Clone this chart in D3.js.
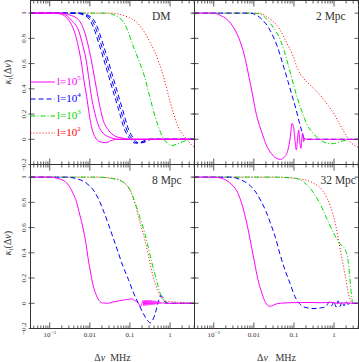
<!DOCTYPE html>
<html>
<head>
<meta charset="utf-8">
<script src="https://cdn.jsdelivr.net/npm/d3@7"></script>
<style>
  body { margin: 0; background: #fff; }
  svg { display: block; font-family: 'Liberation Serif', serif; }
</style>
</head>
<body>
<script>
// every curve is a list of [log10(Δν / MHz), κ_l(Δν)]
// DM panel: three l=10^5 curves and three l=10^4 curves
const dmL5a = [[-3.48,1],[-2.9,1],[-2.7,0.99],[-2.58,0.963],[-2.46,0.91],[-2.375,0.844],[-2.29,0.737],[-2.21,0.605],[-2.15,0.472],[-2.08,0.34],[-2.02,0.207],[-1.96,0.1],[-1.875,0.02],[-1.75,-0.019],[-1.6,-0.027],[-1.48,-0.012],[-1.33,0],[0.61,0]];
const dmL5b = [[-3.48,1],[-2.75,1],[-2.6,0.985],[-2.45,0.94],[-2.29,0.87],[-2.17,0.737],[-2.08,0.605],[-2.02,0.472],[-1.96,0.34],[-1.875,0.207],[-1.79,0.114],[-1.67,0.048],[-1.5,0.016],[-1.29,0],[0.61,0]];
const dmL5c = [[-3.48,1],[-2.7,1],[-2.5,0.985],[-2.29,0.95],[-2.125,0.844],[-2.0,0.685],[-1.92,0.552],[-1.83,0.393],[-1.75,0.26],[-1.67,0.154],[-1.54,0.074],[-1.375,0.026],[-1.17,0.008],[-1.0,0],[0.61,0]];
const dmL4a = [[-3.48,1],[-2.35,1],[-2.2,0.99],[-2.01,0.95],[-1.89,0.87],[-1.78,0.764],[-1.65,0.63],[-1.53,0.5],[-1.4,0.36],[-1.28,0.233],[-1.13,0.074],[-1.01,0.008],[-0.88,-0.03],[-0.75,-0.025],[-0.55,0],[0.61,0]];
const dmL4b = [[-3.48,1],[-2.3,1],[-2.15,0.99],[-1.96,0.95],[-1.84,0.87],[-1.73,0.764],[-1.6,0.63],[-1.48,0.5],[-1.35,0.36],[-1.23,0.233],[-1.08,0.074],[-0.96,0.008],[-0.83,-0.03],[-0.7,-0.025],[-0.5,0],[0.61,0]];
const dmL4c = [[-3.48,1],[-2.25,1],[-2.1,0.99],[-1.91,0.95],[-1.79,0.87],[-1.68,0.764],[-1.55,0.63],[-1.43,0.5],[-1.3,0.36],[-1.18,0.233],[-1.03,0.074],[-0.91,0.008],[-0.78,-0.03],[-0.65,-0.025],[-0.45,0],[0.61,0]];
const dmL3 = [[-3.48,1],[-1.6,1],[-1.25,0.96],[-1.08,0.88],[-0.92,0.74],[-0.75,0.6],[-0.63,0.49],[-0.54,0.38],[-0.42,0.233],[-0.29,0.1],[-0.17,0.008],[-0.04,-0.037],[0.04,-0.05],[0.2,-0.035],[0.4,-0.01],[0.61,0]];
const dmL2 = [[-3.48,1],[-1.5,1],[-1.1,0.975],[-0.75,0.9],[-0.5,0.77],[-0.3,0.63],[-0.13,0.46],[0.0,0.3],[0.1,0.19],[0.2,0.1],[0.33,0.034],[0.42,0],[0.54,-0.045],[0.61,-0.062]];

// 2 Mpc
const mpc2L5 = [[-3.48,1],[-3.0,1],[-2.83,0.981],[-2.67,0.95],[-2.5,0.883],[-2.33,0.764],[-2.21,0.631],[-2.125,0.499],[-2.04,0.366],[-1.96,0.23],[-1.86,0.11],[-1.775,0.03],[-1.69,-0.045],[-1.565,-0.112],[-1.44,-0.151],[-1.34,-0.159],[-1.23,-0.139],[-1.15,-0.085],[-1.09,0.02],[-1.05,0.125],[-1.01,0.1],[-0.975,-0.005],[-0.94,-0.085],[-0.92,-0.032],[-0.88,0.074],[-0.85,-0.032],[-0.825,-0.072],[-0.8,0.02],[-0.78,0.048],[-0.76,-0.019],[-0.73,0.008],[-0.69,0],[0.61,0]];
const mpc2L4 = [[-3.48,1],[-2.08,1],[-1.92,0.98],[-1.75,0.935],[-1.58,0.855],[-1.42,0.74],[-1.28,0.6],[-1.15,0.46],[-1.05,0.35],[-0.95,0.24],[-0.87,0.14],[-0.8,0.06],[-0.76,0.015],[-0.72,0],[0.61,0]];
const mpc2L3 = [[-3.48,1],[-2.0,1],[-1.83,0.99],[-1.67,0.95],[-1.5,0.88],[-1.33,0.78],[-1.17,0.62],[-1.05,0.48],[-0.94,0.353],[-0.815,0.233],[-0.69,0.127],[-0.525,0.048],[-0.36,0.0],[-0.19,-0.03],[-0.025,-0.035],[0.14,-0.02],[0.33,-0.005],[0.61,0]];
const mpc2L2 = [[-3.48,1],[-1.85,1],[-1.67,0.97],[-1.56,0.945],[-1.35,0.87],[-1.18,0.764],[-1.02,0.658],[-0.9,0.552],[-0.75,0.48],[-0.6,0.43],[-0.4,0.37],[-0.2,0.29],[0.0,0.2],[0.15,0.115],[0.32,0.021],[0.4,-0.019],[0.57,-0.058],[0.61,-0.065]];

// 8 Mpc
const mpc8L5 = [[-3.48,1],[-3.0,1],[-2.8,0.99],[-2.667,0.975],[-2.54,0.94],[-2.417,0.87],[-2.33,0.8],[-2.25,0.7],[-2.167,0.59],[-2.1,0.48],[-2.04,0.35],[-1.98,0.24],[-1.917,0.14],[-1.833,0.06],[-1.75,0.015],[-1.667,0.002],[-1.55,0],[-1.417,0.01],[-1.25,0.021],[-1.083,0.03],[-0.958,0.034],[-0.875,0.021],[-0.792,0],[-0.733,-0.026],[-0.7,0],[-0.675,0.022],[-0.65,-0.02],[-0.625,0.024],[-0.6,-0.018],[-0.575,0.025],[-0.55,-0.016],[-0.525,0.024],[-0.5,-0.014],[-0.475,0.023],[-0.45,-0.012],[-0.425,0.021],[-0.4,-0.01],[-0.375,0.019],[-0.35,-0.008],[-0.325,0.016],[-0.3,-0.006],[-0.275,0.013],[-0.25,-0.004],[-0.225,0.01],[-0.2,-0.002],[-0.175,0.006],[-0.15,0],[0.61,0]];
const mpc8L4 = [[-3.48,1],[-2.6,1],[-2.3,0.985],[-2.08,0.95],[-1.92,0.9],[-1.79,0.83],[-1.67,0.74],[-1.54,0.63],[-1.42,0.52],[-1.29,0.4],[-1.17,0.29],[-1.04,0.19],[-0.92,0.09],[-0.79,0],[-0.67,-0.08],[-0.55,-0.14],[-0.49,-0.155],[-0.42,-0.125],[-0.35,-0.058],[-0.29,0.016],[-0.23,0.06],[-0.18,0.047],[-0.125,0.016],[-0.07,0],[0.61,0]];
const mpc8L3 = [[-3.48,1],[-1.83,1],[-1.58,0.995],[-1.33,0.98],[-1.125,0.95],[-1.0,0.9],[-0.875,0.8],[-0.75,0.68],[-0.625,0.55],[-0.54,0.44],[-0.46,0.33],[-0.375,0.23],[-0.29,0.126],[-0.21,0.047],[-0.125,0.008],[0,0],[0.61,0]];
const mpc8L2 = [[-3.48,1],[-1.83,1],[-1.33,0.985],[-1.0,0.9],[-0.875,0.79],[-0.75,0.64],[-0.625,0.5],[-0.54,0.38],[-0.46,0.26],[-0.375,0.16],[-0.29,0.085],[-0.21,0.04],[-0.125,0.02],[0,0.013],[0.25,0.008],[0.5,0.003],[0.61,0]];

// 32 Mpc
const mpc32L5 = [[-3.48,1],[-3.0,1],[-2.8,0.99],[-2.6,0.955],[-2.38,0.86],[-2.24,0.72],[-2.14,0.58],[-2.06,0.45],[-1.98,0.32],[-1.9,0.19],[-1.82,0.1],[-1.73,0.02],[-1.64,-0.02],[-1.58,-0.024],[-1.47,-0.008],[-1.34,0],[-1.0,0.005],[-0.6,0.006],[-0.3,0.004],[-0.1,0.008],[0.1,0],[0.3,0.004],[0.45,0],[0.61,0]];
const mpc32L4 = [[-3.48,1],[-2.6,1],[-2.3,0.975],[-2.1,0.935],[-1.95,0.88],[-1.82,0.81],[-1.7,0.73],[-1.58,0.63],[-1.46,0.52],[-1.34,0.38],[-1.22,0.26],[-1.1,0.16],[-0.98,0.055],[-0.87,0],[-0.78,-0.025],[-0.65,-0.037],[-0.5,-0.042],[-0.34,-0.037],[-0.2,-0.026],[-0.12,0.01],[-0.06,-0.02],[0,0.015],[0.05,-0.03],[0.1,0.02],[0.15,-0.025],[0.2,0.012],[0.25,-0.02],[0.3,0.015],[0.35,-0.01],[0.4,0.005],[0.45,0],[0.61,0]];
const mpc32L3 = [[-3.48,1],[-1.5,1],[-1.0,0.993],[-0.85,0.98],[-0.68,0.94],[-0.52,0.88],[-0.35,0.79],[-0.18,0.67],[-0.01,0.555],[0.15,0.47],[0.27,0.43],[0.345,0.35],[0.39,0.22],[0.425,0.09],[0.47,0.005],[0.5,0],[0.61,0]];
const mpc32L2 = [[-3.48,1],[-1.5,1],[-1.0,0.99],[-0.68,0.975],[-0.5,0.95],[-0.3,0.9],[-0.17,0.83],[-0.04,0.72],[0.04,0.62],[0.1,0.52],[0.17,0.4],[0.23,0.3],[0.29,0.2],[0.35,0.09],[0.41,0.025],[0.46,0],[0.61,0]];

const yTicks = [-0.2, 0, 0.2, 0.4, 0.6, 0.8, 1];
const yTickLabels = ['−0.2', '0', '0.2', '0.4', '0.6', '0.8', '1'];
const xTicks = [0.001, 0.01, 0.1, 1];
const xTickLabels = [['10', '−3'], ['0.01'], ['0.1'], ['1']];
const legendKeys = ['l5', 'l4', 'l3', 'l2'];
const legendPowers = ['5', '4', '3', '2'];

const w = 359, h = 362;
const xLo = -3.48, xHi = 0.61;
const cols = [[30.5, 194.5], [194.5, 358.5]];
const rows = [[0.5, 164.5], [164.5, 328.5]];
const colors = { l5: '#ff00ff', l4: '#0000ff', l3: '#00d800', l2: '#ff0000' };
const dashes = { l5: null, l4: '5,3', l3: '5,2,1,2', l2: '1,2' };

const panels = [
  { label: 'DM', lx: 121.5, col: 0, row: 0,
    lines: [['l2', dmL2], ['l3', dmL3], ['l4', dmL4a], ['l4', dmL4b], ['l4', dmL4c], ['l5', dmL5a], ['l5', dmL5b], ['l5', dmL5c]] },
  { label: '2 Mpc', lx: 121.5, col: 1, row: 0,
    lines: [['l2', mpc2L2], ['l3', mpc2L3], ['l4', mpc2L4], ['l5', mpc2L5]] },
  { label: '8 Mpc', lx: 121.5, col: 0, row: 1,
    lines: [['l2', mpc8L2], ['l3', mpc8L3], ['l4', mpc8L4], ['l5', mpc8L5]] },
  { label: '32 Mpc', lx: 126, col: 1, row: 1,
    lines: [['l2', mpc32L2], ['l3', mpc32L3], ['l4', mpc32L4], ['l5', mpc32L5]] }
];

const svg = d3.select('body').append('svg').attr('width', w).attr('height', h);

const isMajor = v => Math.abs(Math.log10(v) - Math.round(Math.log10(v))) < 1e-6;

function drawPanel(p) {
  const [x0, x1] = cols[p.col];
  const [y0, y1] = rows[p.row];
  const x = d3.scaleLog().domain([10 ** xLo, 10 ** xHi]).range([x0, x1]);
  const y = d3.scaleLinear().domain([-0.2, 1.1]).range([y1, y0]);
  const g = svg.append('g');
  const clipId = `clip-${p.col}-${p.row}`;

  svg.append('clipPath').attr('id', clipId)
    .append('rect').attr('x', x0).attr('y', y0).attr('width', x1 - x0).attr('height', y1 - y0);

  const line = d3.line()
    .x(d => x(10 ** d[0]))
    .y(d => y(d[1]))
    .curve(d3.curveMonotoneX);

  g.append('g').attr('clip-path', `url(#${clipId})`)
    .selectAll('path')
    .data(p.lines)
    .join('path')
    .attr('d', d => line(d[1]))
    .attr('fill', 'none')
    .attr('stroke', d => colors[d[0]])
    .attr('stroke-width', 1)
    .attr('stroke-dasharray', d => dashes[d[0]]);

  // log ticks on top and bottom, pointing in
  const xt = x.ticks();
  const ticks = g.append('g').attr('stroke', '#333').attr('stroke-width', 0.8);
  ticks.selectAll('.xb').data(xt).join('line')
    .attr('x1', d => x(d)).attr('x2', d => x(d))
    .attr('y1', y1).attr('y2', d => y1 - (isMajor(d) ? 6 : 3));
  ticks.selectAll('.xt').data(xt).join('line')
    .attr('x1', d => x(d)).attr('x2', d => x(d))
    .attr('y1', y0).attr('y2', d => y0 + (isMajor(d) ? 6 : 3));
  ticks.selectAll('.yl').data(yTicks).join('line')
    .attr('x1', x0 - 2).attr('x2', x0 + 4)
    .attr('y1', d => y(d)).attr('y2', d => y(d));
  ticks.selectAll('.yr').data(yTicks).join('line')
    .attr('x1', x1 - 4).attr('x2', x1 + 1)
    .attr('y1', d => y(d)).attr('y2', d => y(d));

  g.append('rect')
    .attr('x', x0).attr('y', y0)
    .attr('width', x1 - x0).attr('height', y1 - y0)
    .attr('fill', 'none').attr('stroke', '#333').attr('stroke-width', 1);

  if (p.col === 0) {
    g.selectAll('.ylab').data(yTicks).join('text')
      .attr('transform', d => `translate(${x0 - 5},${y(d)}) rotate(-90)`)
      .attr('text-anchor', 'middle')
      .attr('font-size', 7)
      .attr('fill', '#333')
      .text((d, i) => yTickLabels[i]);

    const yt = g.append('text')
      .attr('transform', `translate(11,${p.row === 0 ? 72 : 243}) rotate(-90)`)
      .attr('text-anchor', 'middle')
      .attr('font-size', 10)
      .attr('fill', '#333');
    yt.append('tspan').attr('font-style', 'italic').text('κ');
    yt.append('tspan').attr('font-size', 7).attr('dy', 2).text('l');
    yt.append('tspan').attr('dy', -2).text('(Δ');
    yt.append('tspan').attr('font-style', 'italic').text('ν');
    yt.append('tspan').text(')');
  }

  if (p.row === 1) {
    const xl = g.selectAll('.xlab').data(xTicks).join('text')
      .attr('x', d => x(d)).attr('y', 336.5)
      .attr('text-anchor', 'middle')
      .attr('font-size', 7)
      .attr('fill', '#333');
    xl.append('tspan').text((d, i) => xTickLabels[i][0]);
    xl.filter((d, i) => xTickLabels[i][1])
      .append('tspan').attr('font-size', 5).attr('dy', -3)
      .text((d, i) => xTickLabels[xTicks.indexOf(d)][1]);

    const xtitle = g.append('text')
      .attr('x', (x0 + x1) / 2).attr('y', 360.5)
      .attr('text-anchor', 'middle')
      .attr('font-size', 10)
      .attr('fill', '#333')
      .style('white-space', 'pre');
    xtitle.append('tspan').text('Δ');
    xtitle.append('tspan').attr('font-style', 'italic').text('ν');
    xtitle.append('tspan').text(p.col === 0 ? '  MHz' : '   MHz');
  }

  g.append('text')
    .attr('x', x0 + p.lx).attr('y', y0 + 19)
    .attr('font-size', 11.5)
    .attr('fill', '#333')
    .text(p.label);

  if (p.label === 'DM') {
    const legendY = [82, 99, 116, 133];
    const leg = g.selectAll('.leg').data(legendKeys).join('g');
    leg.append('line')
      .attr('x1', x0).attr('x2', 55)
      .attr('y1', (d, i) => legendY[i]).attr('y2', (d, i) => legendY[i])
      .attr('stroke', d => colors[d])
      .attr('stroke-width', 1)
      .attr('stroke-dasharray', d => dashes[d]);
    const lt = leg.append('text')
      .attr('x', 57).attr('y', (d, i) => legendY[i] + 2.5)
      .attr('font-size', 11)
      .attr('fill', d => colors[d]);
    lt.append('tspan').text('l=10');
    lt.append('tspan').attr('font-size', 7).attr('dy', -5)
      .text((d, i) => legendPowers[i]);
  }
}

panels.forEach(drawPanel);
</script>
</body>
</html>
